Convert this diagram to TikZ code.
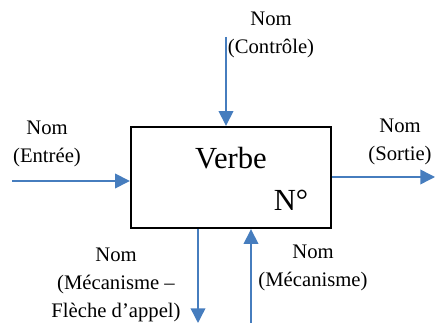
\documentclass[tikz,border=0pt]{standalone}
\usepackage{fontspec}
\setmainfont{Liberation Serif}
\usepackage{xcolor}
\definecolor{flow}{RGB}{70,125,190}
\usetikzlibrary{positioning, arrows.meta}

\begin{document}
\begin{tikzpicture}[
  x=0.75pt, y=-0.75pt,
  box/.style={draw=black, line width=1.8pt, minimum width=150pt, minimum height=75.75pt,
              inner sep=0pt},
  lbl/.style={font=\fontsize{15.5}{21}\selectfont, align=center, inner sep=0pt},
  big/.style={font=\fontsize{23}{26}\selectfont, inner sep=0pt},
  arr/.style={-{Triangle[length=11pt, width=11pt]}, line width=1.1pt, color=flow},
]
  \useasboundingbox (0,0) rectangle (435,323);

  \node[box] (verbe) at (231,177.5) {};
  \node[big] (titre) at (231,158) {Verbe};
  \node[big] (num) at (291,200) {N°};

  \coordinate (ctrlin) at (226,37);
  \coordinate (entin) at (12,181);
  \coordinate (sortout) at (435,177);
  \coordinate (appelout) at (198,323);
  \coordinate (mecain) at (251,323);

  \node[lbl] (ctrl) at (271,35) {Nom\\(Contrôle)};
  \node[lbl] (entree) at (47,144) {Nom\\(Entrée)};
  \node[lbl] (sortie) at (400,141.5) {Nom\\(Sortie)};
  \node[lbl] (appel) at (116,284.5) {Nom\\(Mécanisme –\\Flèche d’appel)};
  \node[lbl] (meca) at (313,267.5) {Nom\\(Mécanisme)};

  \draw[arr] (ctrlin) -- (ctrlin |- verbe.north);
  \draw[arr] (entin) -- (entin -| verbe.west);
  \draw[arr] (sortout -| verbe.east) -- (sortout);
  \draw[arr] (appelout |- verbe.south) -- (appelout);
  \draw[arr] (mecain) -- (mecain |- verbe.south);
\end{tikzpicture}
\end{document}
